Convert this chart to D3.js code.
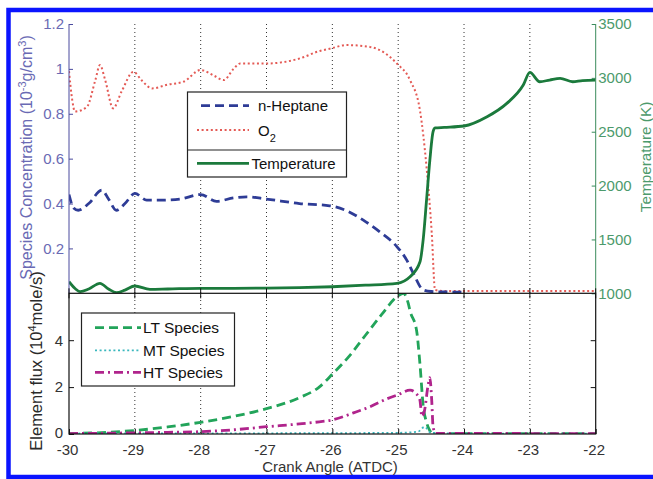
<!DOCTYPE html>
<html><head><meta charset="utf-8">
<script src="https://cdn.jsdelivr.net/npm/d3@7/dist/d3.min.js"></script>
<style>
body{margin:0;background:#fff;}
svg{display:block;font-family:"Liberation Sans",Arial,sans-serif;}
</style></head>
<body><svg id="c" width="653" height="479"></svg>
<script>
// ---- data ----
const xTicks = [-30,-29,-28,-27,-26,-25,-24,-23,-22];
const concTicks = [0.2,0.4,0.6,0.8,1,1.2];
const tempTicks = [1000,1500,2000,2500,3000,3500];
const fluxTicks = [0,2,4];

const heptAngle = [-30,-29.93,-29.86,-29.7,-29.5,-29.4,-29.28,-29.15,-29.0,-28.82,-28.6,-28.31,-28.0,-27.76,-27.5,-27.3,-27.0,-26.5,-26.04,-25.8,-25.53,-25.28,-25.02,-24.87,-24.77,-24.62,-24.5,-24.3,-24.0];
const heptConc  = [0.44,0.38,0.37,0.40,0.46,0.42,0.37,0.40,0.445,0.415,0.415,0.42,0.44,0.41,0.425,0.43,0.42,0.40,0.39,0.37,0.326,0.274,0.208,0.148,0.089,0.015,0.008,0.006,0.005];

const o2Angle = [-30,-29.95,-29.91,-29.73,-29.6,-29.53,-29.45,-29.33,-29.2,-29.02,-28.9,-28.74,-28.5,-28.26,-28.0,-27.8,-27.65,-27.5,-27.4,-27.0,-26.49,-26.19,-26.04,-25.78,-25.43,-25.2,-25.02,-24.82,-24.67,-24.57,-24.49,-24.44,-24.3,-24,-23,-22];
const o2Conc  = [0.99,0.86,0.81,0.83,0.95,1.017,0.95,0.824,0.9,0.987,0.95,0.913,0.93,0.943,0.995,0.97,0.95,1.0,1.024,1.024,1.047,1.08,1.09,1.106,1.098,1.07,1.024,0.95,0.816,0.564,0.267,0.015,0.01,0.01,0.01,0.01];

const tempAngle = [-30,-29.9,-29.83,-29.7,-29.53,-29.4,-29.28,-29.15,-29.0,-28.77,-28.5,-28,-27.5,-27,-26.5,-26,-25.5,-25.02,-24.82,-24.67,-24.62,-24.57,-24.52,-24.47,-24.44,-24.3,-24.0,-23.65,-23.35,-23.1,-23.0,-22.85,-22.7,-22.54,-22.35,-22.2,-22.0];
const tempK     = [1108,1040,1015,1040,1093,1040,1006,1030,1068,1037,1040,1046,1046,1048,1052,1061,1075,1093,1154,1290,1500,1860,2230,2500,2535,2540,2553,2639,2763,2933,3050,2964,2980,2995,2964,2975,2979];

const ltAngle = [-30,-29.5,-29,-28.5,-28,-27.5,-27,-26.5,-26.2,-26,-25.75,-25.5,-25.25,-25.0,-24.92,-24.85,-24.82,-24.72,-24.67,-24.62,-24.57,-24.52,-24.47,-24.4,-24,-23,-22];
const ltFlux  = [0.02,0.06,0.15,0.3,0.5,0.75,1.08,1.55,2.0,2.55,3.3,4.2,5.1,5.9,6.0,5.6,5.25,4.4,3.0,1.2,0.5,0.15,0.02,0.01,0.01,0.01,0.01];

const mtAngle = [-30,-27,-25,-24.7,-24.6,-24.5,-24,-22];
const mtFlux  = [0.02,0.03,0.05,0.1,0.3,0.05,0.02,0.02];

const htAngle = [-30,-29.5,-29,-28.5,-28,-27.5,-27,-26.5,-26.2,-26,-25.68,-25.43,-25.17,-25,-24.82,-24.72,-24.67,-24.64,-24.6,-24.55,-24.52,-24.49,-24.47,-24.43,-24,-23,-22];
const htFlux  = [0.02,0.03,0.05,0.07,0.1,0.18,0.31,0.43,0.52,0.6,0.9,1.16,1.5,1.68,1.87,1.7,1.45,0.75,1.0,2.0,2.4,1.4,0.3,0.03,0.03,0.02,0.02];

// ---- layout ----
const svg = d3.select("#c");
const L = 69, R = 595.7, T = 24, MID = 293.3, B = 434;
const x  = d3.scaleLinear().domain([-30,-22]).range([L,R]);
const yL = d3.scaleLinear().domain([0,1.2]).range([MID,T]);
const yR = d3.scaleLinear().domain([1000,3500]).range([MID,T]);
const yB = d3.scaleLinear().domain([0,6]).range([B,MID]);

const blueAx = "#4b4b9e", blueTx = "#6a6ab4", greenAx = "#3a8c5c", greenTx = "#4c9a6c", dark = "#2a2a2a";

// blue frame
svg.append("rect").attr("x",8.5).attr("y",10).attr("width",700).attr("height",467)
  .attr("fill","none").attr("stroke","#0a14ff").attr("stroke-width",4.5);

// clip paths
const defs = svg.append("defs");
defs.append("clipPath").attr("id","cu").append("rect").attr("x",L).attr("y",T-2).attr("width",R-L).attr("height",MID-T+2);
defs.append("clipPath").attr("id","cl").append("rect").attr("x",L).attr("y",MID).attr("width",R-L).attr("height",B-MID);

// grid lines
const grid = svg.append("g");
xTicks.slice(1,-1).forEach(v=>{
  grid.append("line").attr("x1",x(v)).attr("x2",x(v)).attr("y1",T).attr("y2",B)
    .attr("stroke","#333").attr("stroke-width",1).attr("stroke-dasharray","1,3");
});

// lines
function drawLine(g, xs, ys, ysc, color, w, dash){
  const pts = xs.map((a,i)=>[a, ys[i]]);
  const line = d3.line().x(d=>x(d[0])).y(d=>ysc(d[1])).curve(d3.curveMonotoneX);
  g.append("path").attr("d",line(pts)).attr("fill","none").attr("stroke",color)
    .attr("stroke-width",w).attr("stroke-dasharray",dash||null);
}
const up = svg.append("g").attr("clip-path","url(#cu)");
drawLine(up, o2Angle, o2Conc, yL, "#e45a55", 2, "2,2.6");
drawLine(up, heptAngle, heptConc, yL, "#2e3c96", 2.8, "9,5");
drawLine(up, tempAngle, tempK, yR, "#1b7a3c", 2.8, null);

const lo = svg.append("g").attr("clip-path","url(#cl)");
drawLine(lo, ltAngle, ltFlux, yB, "#22a45a", 2.8, "9,5");
drawLine(lo, mtAngle, mtFlux, yB, "#3ab7bd", 1.8, "2,2.6");
drawLine(lo, htAngle, htFlux, yB, "#b0248c", 2.8, "9,4,2,4");

// axes
function styleAxis(g, lineColor, textColor, size){
  g.selectAll("path.domain").attr("stroke",lineColor);
  g.selectAll(".tick line").attr("stroke",lineColor);
  g.selectAll("text").attr("fill",textColor).attr("font-size",size)
    .attr("font-family","Liberation Sans, Arial, sans-serif");
}
const fmt = d=>String(d);
// upper left
const aL = svg.append("g").attr("transform",`translate(${L},0)`)
  .call(d3.axisLeft(yL).tickValues(concTicks).tickFormat(fmt).tickSize(-4).tickSizeOuter(0).tickPadding(5));
styleAxis(aL, blueAx, blueTx, 15);
aL.select("path.domain").attr("d",`M0,${T}V${MID}`);
// upper right
const aR = svg.append("g").attr("transform",`translate(${R},0)`)
  .call(d3.axisRight(yR).tickValues(tempTicks).tickFormat(fmt).tickSize(-4).tickSizeOuter(0).tickPadding(2.5));
styleAxis(aR, greenAx, greenTx, 15);
aR.select("path.domain").attr("d",`M0,${T}V${MID}`);
// lower panel box
svg.append("rect").attr("x",L).attr("y",MID).attr("width",R-L).attr("height",B-MID)
  .attr("fill","none").attr("stroke","#111").attr("stroke-width",1.2);
// upper x-axis ticks (up and down at boundary)
xTicks.forEach(v=>{
  svg.append("line").attr("x1",x(v)).attr("x2",x(v)).attr("y1",MID-5).attr("y2",MID+5).attr("stroke","#111");
});
// bottom x axis
const aB = svg.append("g").attr("transform",`translate(0,${B})`)
  .call(d3.axisBottom(x).tickValues(xTicks).tickFormat(fmt).tickSize(-5).tickSizeOuter(0).tickPadding(10));
styleAxis(aB, "#111", "#333", 15);
aB.select("path.domain").remove();
aB.selectAll("text").attr("dx",-2);
// lower left axis
const aLL = svg.append("g").attr("transform",`translate(${L},0)`)
  .call(d3.axisLeft(yB).tickValues(fluxTicks).tickFormat(fmt).tickSize(-5).tickSizeOuter(0).tickPadding(6));
styleAxis(aLL, "#111", "#333", 15);
aLL.select("path.domain").remove();
aLL.selectAll(".tick").filter(d=>d===0).select("text").attr("dy","0.2em");
// lower right ticks
const aLR = svg.append("g").attr("transform",`translate(${R},0)`)
  .call(d3.axisRight(yB).tickValues([2,4]).tickFormat("").tickSize(-5).tickSizeOuter(0));
styleAxis(aLR, "#111", "#333", 15);
aLR.select("path.domain").remove();

// axis titles
const t1 = svg.append("text").attr("transform","translate(32,157.5) rotate(-90)")
  .attr("text-anchor","middle").attr("font-size",16).attr("fill",blueTx);
t1.append("tspan").text("Species Concentration (10");
t1.append("tspan").attr("dy",-6).attr("font-size",11).text("-3");
t1.append("tspan").attr("dy",6).text("g/cm");
t1.append("tspan").attr("dy",-6).attr("font-size",11).text("3");
t1.append("tspan").attr("dy",6).text(")");

const t2 = svg.append("text").attr("transform","translate(42,361) rotate(-90)")
  .attr("text-anchor","middle").attr("font-size",16.5).attr("fill",dark);
t2.append("tspan").text("Element flux (10");
t2.append("tspan").attr("dy",-6).attr("font-size",11).text("4");
t2.append("tspan").attr("dy",6).text("mole/s)");

svg.append("text").attr("transform","translate(651,157) rotate(-90)")
  .attr("text-anchor","middle").attr("font-size",15.3).attr("fill",greenTx).text("Temperature (K)");

svg.append("text").attr("x",330).attr("y",472).attr("text-anchor","middle")
  .attr("font-size",15).attr("fill","#333").text("Crank Angle (ATDC)");

// legend 1 (upper)
const lg1 = svg.append("g");
lg1.append("rect").attr("x",187.5).attr("y",92).attr("width",159).attr("height",85)
  .attr("fill","#fff").attr("stroke","#222").attr("stroke-width",1.2);
lg1.append("line").attr("x1",187.5).attr("x2",346.5).attr("y1",150).attr("y2",150).attr("stroke","#222").attr("stroke-width",1.2);
const leg1 = [
  {y:105.7, color:"#2e3c96", w:2.8, dash:"9,5", x1:201, text:"n-Heptane", tx:258},
  {y:130, color:"#e45a55", w:2, dash:"2,2.6", x1:197, text:"O", sub:"2", tx:258},
  {y:163.3, color:"#1b7a3c", w:2.8, dash:null, x1:197, text:"Temperature", tx:251.5}
];
leg1.forEach(d=>{
  lg1.append("line").attr("x1",d.x1).attr("x2",249).attr("y1",d.y).attr("y2",d.y)
    .attr("stroke",d.color).attr("stroke-width",d.w).attr("stroke-dasharray",d.dash);
  const t = lg1.append("text").attr("x",d.tx).attr("y",d.y+5.5).attr("font-size",15).attr("fill","#111");
  t.append("tspan").text(d.text);
  if(d.sub) t.append("tspan").attr("dy",6).attr("font-size",11).text(d.sub);
});

// legend 2 (lower)
const lg2 = svg.append("g");
lg2.append("rect").attr("x",81.5).attr("y",313).attr("width",153).attr("height",73)
  .attr("fill","#fff").attr("stroke","#222").attr("stroke-width",1.2);
const leg2 = [
  {y:327.7, color:"#22a45a", w:2.8, dash:"9,5", text:"LT Species"},
  {y:350.4, color:"#3ab7bd", w:1.8, dash:"2,2.6", text:"MT Species"},
  {y:372.3, color:"#b0248c", w:2.8, dash:"9,4,2,4", text:"HT Species"}
];
leg2.forEach(d=>{
  lg2.append("line").attr("x1",95).attr("x2",141).attr("y1",d.y).attr("y2",d.y)
    .attr("stroke",d.color).attr("stroke-width",d.w).attr("stroke-dasharray",d.dash);
  lg2.append("text").attr("x",143).attr("y",d.y+5.5).attr("font-size",15.5).attr("fill","#111").text(d.text);
});
</script></body></html>
